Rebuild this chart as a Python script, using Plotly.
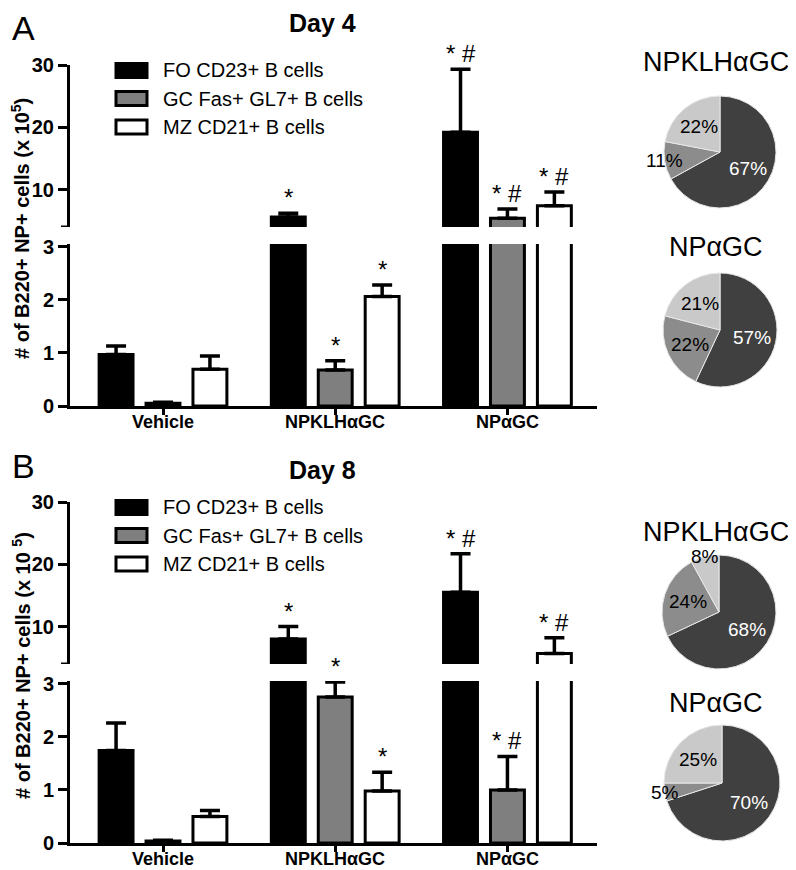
import math
import plotly.graph_objects as go

# The page body has an 8px margin, so the figure is sized to fit the
# 796x870 window and positions are given in window pixels.
WIN_W, WIN_H = 796, 870
PAGE_MARGIN = 8
W, H = WIN_W - PAGE_MARGIN, WIN_H - PAGE_MARGIN

# ---------------- data ----------------
categories = ["Vehicle", "NPKLHαGC", "NPαGC"]
series_names = ["FO CD23+ B cells", "GC Fas+ GL7+ B cells", "MZ CD21+ B cells"]

# Day 4 (# of B220+ NP+ cells, x10^5)
day4_fo = [0.97, 5.6, 19.2]
day4_fo_err = [0.16, 0.6, 10.1]
day4_gc = [0.05, 0.68, 5.4]
day4_gc_err = [0.02, 0.17, 1.5]
day4_mz = [0.69, 2.06, 7.4]
day4_mz_err = [0.25, 0.22, 2.2]
day4_sig_fo = ["", "*", "* #"]
day4_sig_gc = ["", "*", "* #"]
day4_sig_mz = ["", "*", "* #"]

# Day 8
day8_fo = [1.74, 8.0, 15.5]
day8_fo_err = [0.52, 2.0, 6.2]
day8_gc = [0.04, 2.75, 1.0]
day8_gc_err = [0.01, 0.28, 0.63]
day8_mz = [0.50, 0.98, 5.7]
day8_mz_err = [0.11, 0.35, 2.5]
day8_sig_fo = ["", "*", "* #"]
day8_sig_gc = ["", "*", "* #"]
day8_sig_mz = ["", "*", "* #"]

lower_ticks = [0, 1, 2, 3]
upper_ticks = [10, 20, 30]

# pie percentages: FO, GC, MZ
pie_day4_npklh = [67, 11, 22]
pie_day4_np = [57, 22, 21]
pie_day8_npklh = [68, 24, 8]
pie_day8_np = [70, 5, 25]

# ---------------- helpers / style ----------------
def px(x):
    return (x - PAGE_MARGIN) / W


def py(y):
    return 1 - (y - PAGE_MARGIN) / H


FONT = "Arial, Liberation Sans, sans-serif"
fills = ["#000000", "#7f7f7f", "#ffffff"]
pie_colors = ["#404040", "#8c8c8c", "#c9c9c9"]
slot = 0.2725
bar_w = 0.197
offsets = [-1, 0, 1]
LOW_TOP = 3.05
UP_RANGE = [4, 30]

fig = go.Figure()

panels = [
    dict(off=0, vals=[day4_fo, day4_gc, day4_mz], errs=[day4_fo_err, day4_gc_err, day4_mz_err],
         sigs=[day4_sig_fo, day4_sig_gc, day4_sig_mz], xa="x", ylo="y", yhi="y2",
         title="Day 4", letter="A", title_y=23, letter_y=28,
         ytitle="<b># of B220+ NP+ cells (x 10<sup>5</sup>)</b>"),
    dict(off=437, vals=[day8_fo, day8_gc, day8_mz], errs=[day8_fo_err, day8_gc_err, day8_mz_err],
         sigs=[day8_sig_fo, day8_sig_gc, day8_sig_mz], xa="x2", ylo="y3", yhi="y4",
         title="Day 8", letter="B", title_y=470, letter_y=466,
         ytitle="<b># of B220+ NP+ cells (x 10 <sup>5</sup>)</b>"),
]

annotations = []
shapes = []
layout_axes = {}

for p in panels:
    off = p["off"]
    for s in range(3):
        xs = [i + offsets[s] * slot for i in range(len(categories))]
        for ya in (p["ylo"], p["yhi"]):
            fig.add_trace(go.Bar(
                x=xs, y=p["vals"][s], width=bar_w,
                marker=dict(color=fills[s], line=dict(color="black", width=3)),
                error_y=dict(type="data", array=p["errs"][s], arrayminus=[0] * 3,
                             symmetric=False, color="black", thickness=3.5, width=10),
                xaxis=p["xa"], yaxis=ya, showlegend=False, hoverinfo="skip",
            ))
        # significance marks
        for i in range(len(categories)):
            txt = p["sigs"][s][i]
            if not txt:
                continue
            top = p["vals"][s][i] + p["errs"][s][i]
            yref = p["ylo"] if top <= LOW_TOP else p["yhi"]
            annotations.append(dict(
                x=xs[i], y=top, xref=p["xa"], yref=yref, text=txt, showarrow=False,
                xanchor="center", yanchor="bottom", yshift=0,
                font=dict(family=FONT, size=24, color="black")))
        # custom legend
        row = [70.5, 98.5, 127][s] + off
        shapes.append(dict(type="rect", xref="paper", yref="paper",
                           x0=px(116), x1=px(147), y0=py(row + 7), y1=py(row - 7),
                           fillcolor=fills[s], line=dict(color="black", width=3)))
        annotations.append(dict(x=px(161), y=py(row), xref="paper", yref="paper",
                                text=series_names[s], showarrow=False, xanchor="left",
                                yanchor="middle", font=dict(family=FONT, size=20, color="black")))

    # category labels under the x axis
    for i, cat in enumerate(categories):
        annotations.append(dict(x=i, y=py(406 + off + 16), xref=p["xa"], yref="paper",
                                text="<b>" + cat + "</b>", showarrow=False,
                                xanchor="center", yanchor="middle",
                                font=dict(family=FONT, size=18, color="black")))

    # axes
    xname = "xaxis" if p["xa"] == "x" else "xaxis2"
    lo_name = "yaxis" if p["ylo"] == "y" else "yaxis3"
    hi_name = "yaxis2" if p["yhi"] == "y2" else "yaxis4"
    layout_axes[xname] = dict(
        domain=[px(70), px(597)], range=[-0.54, 2.52], anchor=p["ylo"],
        showline=True, linecolor="black", linewidth=3, ticks="outside", ticklen=6,
        tickwidth=3, tickcolor="black", tickvals=list(range(len(categories))),
        showticklabels=False,
        showgrid=False, zeroline=False, automargin=False, fixedrange=True)
    layout_axes[lo_name] = dict(
        domain=[py(406 + off), py(244 + off)], range=[0, LOW_TOP], anchor=p["xa"],
        showline=True, linecolor="black", linewidth=3, ticks="outside", ticklen=9,
        tickwidth=3, tickcolor="black", tickvals=lower_ticks,
        tickfont=dict(family=FONT, size=20, color="black", weight="bold"),
        showgrid=False, zeroline=False, automargin=False, fixedrange=True)
    layout_axes[hi_name] = dict(
        domain=[py(227 + off), py(65 + off)], range=UP_RANGE, anchor=p["xa"],
        showline=True, linecolor="black", linewidth=3, ticks="outside", ticklen=9,
        tickwidth=3, tickcolor="black", tickvals=upper_ticks,
        tickfont=dict(family=FONT, size=20, color="black", weight="bold"),
        showgrid=False, zeroline=False, automargin=False, fixedrange=True)
    # break tick at the bottom of the upper segment
    shapes.append(dict(type="line", xref="paper", yref=p["yhi"],
                       x0=px(61), x1=px(70), y0=UP_RANGE[0], y1=UP_RANGE[0],
                       line=dict(color="black", width=3)))

    # titles
    annotations.append(dict(x=px(21), y=py(229 + off), xref="paper", yref="paper",
                            text=p["ytitle"], textangle=-90, showarrow=False,
                            xanchor="center", yanchor="middle",
                            font=dict(family=FONT, size=20, color="black")))
    annotations.append(dict(x=px(24), y=py(p["letter_y"]), xref="paper", yref="paper",
                            text=p["letter"], showarrow=False, xanchor="center", yanchor="middle",
                            font=dict(family=FONT, size=34, color="black")))
    annotations.append(dict(x=px(322), y=py(p["title_y"]), xref="paper", yref="paper",
                            text="<b>" + p["title"] + "</b>", showarrow=False,
                            xanchor="center", yanchor="middle",
                            font=dict(family=FONT, size=25, color="black")))

# ---------------- pies ----------------
pie_specs = [
    (pie_day4_npklh, categories[1], 720, 152, 56, 62),
    (pie_day4_np, categories[2], 720, 330, 57, 247),
    (pie_day8_npklh, categories[1], 719, 612, 57, 532),
    (pie_day8_np, categories[2], 722, 783, 58, 703),
]
for vals, title, cx, cy, r, ty in pie_specs:
    fig.add_trace(go.Pie(
        values=vals, labels=series_names, sort=False, direction="clockwise", rotation=0,
        marker=dict(colors=pie_colors, line=dict(color="#e8e8e8", width=1)),
        textinfo="none", hoverinfo="skip", showlegend=False,
        domain=dict(x=[px(cx - r), px(cx + r)], y=[py(cy + r), py(cy - r)]),
    ))
    annotations.append(dict(x=px(716), y=py(ty), xref="paper", yref="paper", text=title,
                            showarrow=False, xanchor="center", yanchor="middle",
                            font=dict(family=FONT, size=27, color="black")))
    total = float(sum(vals))
    cum = 0.0
    for k, v in enumerate(vals):
        mid = 2 * math.pi * (cum + v / 2.0) / total
        cum += v
        f = 1.0 if v / total < 0.12 else 0.58
        lx = cx + f * r * math.sin(mid)
        ly = cy - f * r * math.cos(mid)
        annotations.append(dict(x=px(lx), y=py(ly), xref="paper", yref="paper",
                                text=f"{v}%", showarrow=False, xanchor="center",
                                yanchor="middle",
                                font=dict(family=FONT, size=19,
                                          color="white" if k == 0 else "black")))

fig.update_layout(
    template="none",
    width=W, height=H,
    margin=dict(l=0, r=0, t=0, b=0),
    paper_bgcolor="white", plot_bgcolor="white",
    barmode="overlay",
    showlegend=False,
    annotations=annotations,
    shapes=shapes,
    **layout_axes,
)

fig.write_html("out.html")
